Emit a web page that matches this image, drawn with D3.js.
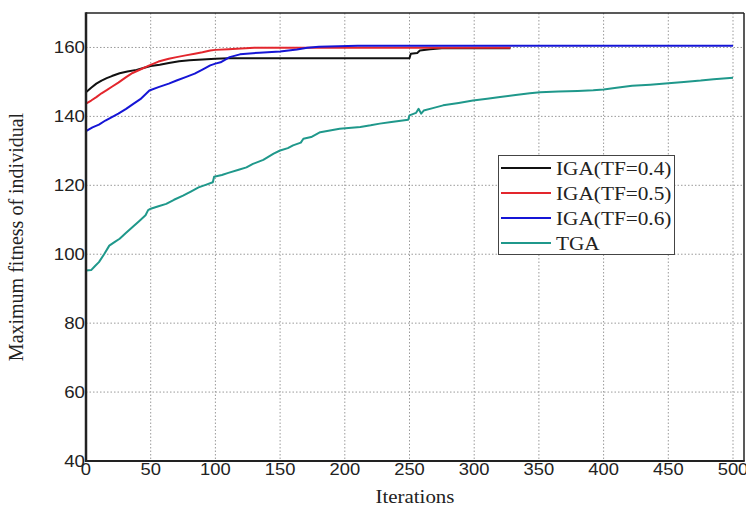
<!DOCTYPE html>
<html lang="en">
<head>
<meta charset="UTF-8">
<title>Maximum fitness of individual</title>
<script src="https://d3js.org/d3.v7.min.js"></script>
<style>
    body { margin: 0; background: #fff; }
    svg { display: block; }
    .tick-label { font-family: "Liberation Sans", Arial, sans-serif; font-size: 17px; fill: #222; }
    .title { font-family: "Liberation Serif", "Times New Roman", serif; fill: #222; }
    .grid line { stroke: #9a9a9a; stroke-width: 1; stroke-dasharray: 1.5,2; }
</style>
</head>
<body>
<div id="chart"></div>
<script>
    // tick values
    const xTicks = [0, 50, 100, 150, 200, 250, 300, 350, 400, 450, 500];
    const yTicks = [40, 60, 80, 100, 120, 140, 160];

    // series: [iteration, max fitness]
    const igaTF04 = [[0,147],[4,148.3],[8,149.5],[12,150.4],[16,151.1],[20,151.7],[26,152.5],[32,153],[39,153.5],[45,154.1],[50,154.6],[57,155],[64,155.5],[72,156],[80,156.3],[90,156.5],[100,156.7],[110,156.9],[250,156.9],[251,158.2],[256,158.4],[258,159.1],[266,159.5],[275,159.8],[328,159.8]];
    const igaTF05 = [[0,143.7],[4,144.6],[8,145.6],[12,146.7],[16,147.6],[20,148.6],[25,149.8],[31,151.4],[36,152.6],[42,153.6],[49,154.8],[56,155.9],[64,156.7],[70,157.2],[77,157.7],[84,158.2],[90,158.6],[96,159.1],[100,159.3],[110,159.5],[130,159.9],[328,159.9]];
    const igaTF06 = [[0,135.7],[5,136.8],[10,137.6],[15,138.8],[20,139.8],[25,140.8],[31,142.2],[36,143.5],[42,145],[49,147.5],[56,148.5],[64,149.5],[70,150.4],[77,151.4],[84,152.4],[90,153.6],[96,154.8],[100,155.3],[104,155.7],[111,157.2],[119,158],[134,158.5],[150,158.8],[163,159.4],[171,159.9],[180,160.2],[210,160.5],[500,160.5]];
    const tga = [[0,95.3],[4,95.4],[7,96.6],[10,97.7],[14,100],[18,102.5],[22,103.5],[26,104.5],[31,106.2],[36,107.9],[41,109.6],[46,111.3],[48,112.8],[50,113.2],[56,113.9],[62,114.6],[68,115.8],[75,117],[81,118.2],[87,119.4],[93,120.2],[98,120.9],[99,122.5],[105,123],[110,123.6],[118,124.5],[124,125.2],[129,126.2],[137,127.4],[145,129.2],[150,130.1],[156,130.8],[160,131.6],[166,132.4],[168,133.5],[174,134],[181,135.4],[196,136.4],[212,136.9],[220,137.4],[227,137.9],[236,138.4],[249,139],[250,140.3],[255,141],[257,142.2],[259,140.8],[261,141.7],[268,142.4],[276,143.2],[288,143.9],[299,144.6],[310,145.1],[320,145.6],[332,146.2],[343,146.7],[351,147],[365,147.2],[380,147.4],[392,147.6],[400,147.8],[410,148.3],[422,148.9],[436,149.2],[450,149.6],[462,150],[475,150.4],[485,150.8],[500,151.2]];

    const seriesNames = ["IGA(TF=0.4)", "IGA(TF=0.5)", "IGA(TF=0.6)", "TGA"];
    const seriesData = [igaTF04, igaTF05, igaTF06, tga];
    const seriesColors = ["#111111", "#e3262d", "#1515d6", "#1f988b"];

    const W = 746, H = 507;
    const plotL = 86, plotR = 744, plotT = 13, plotB = 461;

    const x = d3.scaleLinear().domain([0, 508.5]).range([plotL, plotR]);
    const y = d3.scaleLinear().domain([40, 170]).range([plotB, plotT]);

    const svg = d3.select("#chart").append("svg")
        .attr("width", W).attr("height", H);

    // the picture is a bit wider than tall, so text is stretched sideways
    function widen(sel, k) {
        sel.each(function() {
            const len = this.getComputedTextLength();
            d3.select(this).attr("textLength", len * k).attr("lengthAdjust", "spacingAndGlyphs");
        });
    }

    // grid
    const grid = svg.append("g").attr("class", "grid");
    grid.selectAll(".gx").data(xTicks.slice(1)).enter().append("line")
        .attr("x1", d => x(d)).attr("x2", d => x(d))
        .attr("y1", plotT).attr("y2", plotB);
    grid.selectAll(".gy").data(yTicks.slice(1)).enter().append("line")
        .attr("x1", plotL).attr("x2", plotR)
        .attr("y1", d => y(d)).attr("y2", d => y(d));

    // series lines
    const line = d3.line().x(d => x(d[0])).y(d => y(d[1]));
    svg.append("g").selectAll("path")
        .data(seriesData).enter().append("path")
        .attr("fill", "none")
        .attr("stroke", (d, i) => seriesColors[i])
        .attr("stroke-width", 2)
        .attr("stroke-linejoin", "round")
        .attr("d", line);

    // frame
    svg.append("line").attr("x1", plotL).attr("x2", plotR).attr("y1", plotT).attr("y2", plotT)
        .attr("stroke", "#222").attr("stroke-width", 1.5);
    svg.append("line").attr("x1", plotR).attr("x2", plotR).attr("y1", plotT).attr("y2", plotB)
        .attr("stroke", "#222").attr("stroke-width", 1.5);
    svg.append("line").attr("x1", plotL).attr("x2", plotL).attr("y1", plotT - 0.75).attr("y2", plotB + 1)
        .attr("stroke", "#222").attr("stroke-width", 2.5);
    svg.append("line").attr("x1", plotL).attr("x2", plotR + 0.75).attr("y1", plotB).attr("y2", plotB)
        .attr("stroke", "#222").attr("stroke-width", 2.2);

    // tick labels
    const xl = svg.append("g").selectAll("text").data(xTicks).enter().append("text")
        .attr("class", "tick-label")
        .attr("x", d => x(d)).attr("y", 475)
        .attr("text-anchor", "middle")
        .text(d => d);
    widen(xl, 1.08);

    const yl = svg.append("g").selectAll("text").data(yTicks).enter().append("text")
        .attr("class", "tick-label")
        .attr("x", plotL - 1).attr("y", d => y(d) + 6)
        .attr("text-anchor", "end")
        .text(d => d);
    widen(yl, 1.1);

    // axis titles
    const xt = svg.append("text").attr("class", "title")
        .attr("x", 415).attr("y", 503)
        .attr("text-anchor", "middle")
        .style("font-size", "18.5px")
        .text("Iterations");
    widen(xt, 1.13);

    svg.append("text").attr("class", "title")
        .attr("transform", "translate(23,237) rotate(-90)")
        .attr("text-anchor", "middle")
        .style("font-size", "20px")
        .text("Maximum fitness of individual");

    // legend
    const legend = svg.append("g");
    legend.append("rect")
        .attr("x", 498.5).attr("y", 155.5).attr("width", 176).attr("height", 99)
        .attr("fill", "#fff").attr("stroke", "#444").attr("stroke-width", 1);
    const rows = legend.selectAll(".row").data(seriesNames).enter().append("g")
        .attr("transform", (d, i) => `translate(0,${168 + i * 25})`);
    rows.append("line")
        .attr("x1", 501).attr("x2", 551)
        .attr("stroke", (d, i) => seriesColors[i]).attr("stroke-width", 2);
    const lt = rows.append("text").attr("class", "title")
        .attr("x", 556).attr("y", 6.5)
        .style("font-size", "18.5px")
        .text(d => d);
    widen(lt, 1.15);
</script>
</body>
</html>
